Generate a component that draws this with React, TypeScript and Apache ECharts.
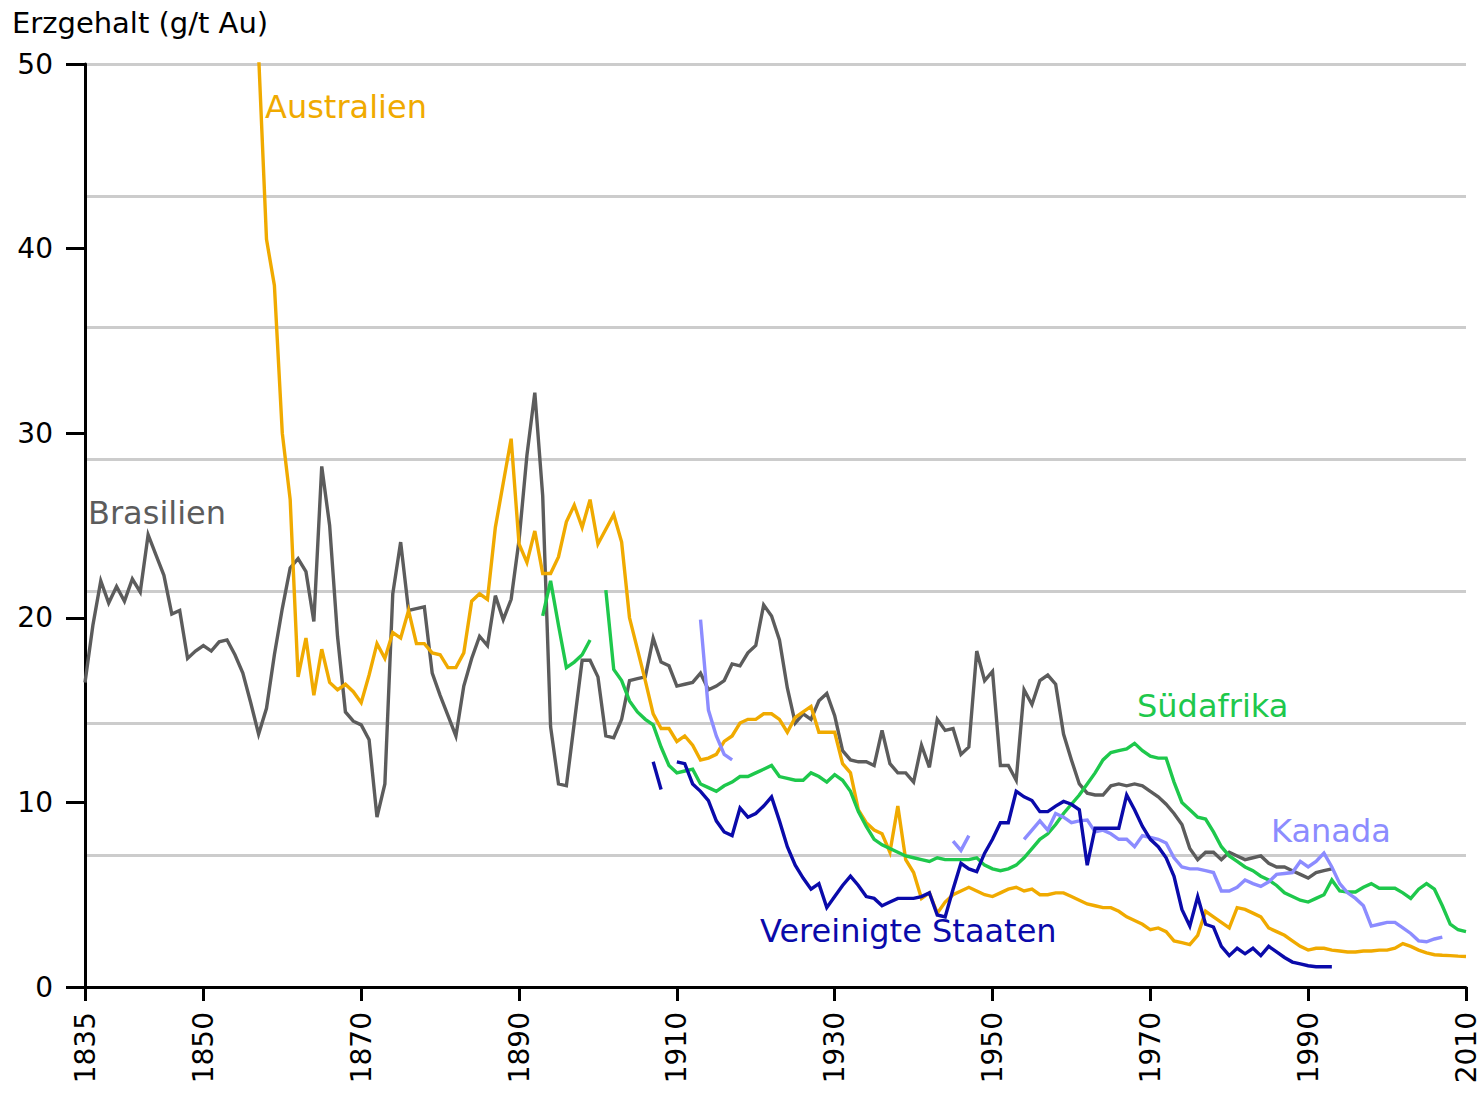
import React, { useEffect, useRef } from "react";
import * as echarts from "echarts";

const xTickYears = [1835, 1850, 1870, 1890, 1910, 1930, 1950, 1970, 1990, 2010];
const yTickValues = [0, 10, 20, 30, 40, 50];

const brasilienStart = 1835;
const brasilienValues = [
  16.5, 19.6, 22.0, 20.8, 21.7, 20.9, 22.1, 21.4, 24.5, 23.4,
  22.3, 20.2, 20.4, 17.8, 18.2, 18.5, 18.2, 18.7, 18.8, 18.0,
  17.0, 15.4, 13.7, 15.1, 18.0, 20.5, 22.7, 23.2, 22.5, 19.8,
  28.2, 25.0, 19.0, 14.9, 14.4, 14.2, 13.4, 9.2, 11.0, 21.3,
  24.1, 20.4, 20.5, 20.6, 17.0, 15.8, 14.7, 13.6, 16.3, 17.8,
  19.0, 18.5, 21.2, 19.9, 21.0, 24.2, 28.8, 32.2, 26.6, 14.1,
  11.0, 10.9, 14.3, 17.7, 17.7, 16.8, 13.6, 13.5, 14.5, 16.6,
  16.7, 16.8, 18.9, 17.6, 17.4, 16.3, 16.4, 16.5, 17.0, 16.1,
  16.3, 16.6, 17.5, 17.4, 18.1, 18.5, 20.7, 20.1, 18.8, 16.2,
  14.3, 14.8, 14.5, 15.5, 15.9, 14.7, 12.8, 12.3, 12.2, 12.2,
  12.0, 13.9, 12.1, 11.6, 11.6, 11.1, 13.1, 11.9, 14.5, 13.9,
  14.0, 12.6, 13.0, 18.2, 16.6, 17.1, 12.0, 12.0, 11.2, 16.1,
  15.3, 16.6, 16.9, 16.4, 13.7, 12.3, 11.0, 10.5, 10.4, 10.4,
  10.9, 11.0, 10.9, 11.0, 10.9, 10.6, 10.3, 9.9, 9.4, 8.8,
  7.5, 6.9, 7.3, 7.3, 6.9, 7.3, 7.1, 6.9, 7.0, 7.1,
  6.7, 6.5, 6.5, 6.3, 6.1, 5.9, 6.2, 6.3, 6.4,
];

const australienStart = 1857;
const australienValues = [
  50.5, 40.5, 38.0, 30.0, 26.4, 16.8, 18.9, 15.8, 18.3, 16.5,
  16.1, 16.4, 16.0, 15.4, 16.9, 18.6, 17.8, 19.2, 18.9, 20.4,
  18.6, 18.6, 18.1, 18.0, 17.3, 17.3, 18.1, 20.9, 21.3, 21.0,
  24.9, 27.3, 29.7, 24.0, 23.0, 24.7, 22.4, 22.4, 23.3, 25.2,
  26.1, 24.9, 26.4, 24.0, 24.8, 25.6, 24.1, 20.0, 18.3, 16.6,
  14.8, 14.0, 14.0, 13.3, 13.6, 13.1, 12.3, 12.4, 12.6, 13.3,
  13.6, 14.3, 14.5, 14.5, 14.8, 14.8, 14.5, 13.8, 14.6, 14.9,
  15.2, 13.8, 13.8, 13.8, 12.1, 11.6, 9.6, 8.9, 8.5, 8.3,
  7.3, 9.8, 6.9, 6.2, 4.8, 5.1, 4.0, 4.6, 5.0, 5.2,
  5.4, 5.2, 5.0, 4.9, 5.1, 5.3, 5.4, 5.2, 5.3, 5.0,
  5.0, 5.1, 5.1, 4.9, 4.7, 4.5, 4.4, 4.3, 4.3, 4.1,
  3.8, 3.6, 3.4, 3.1, 3.2, 3.0, 2.5, 2.4, 2.3, 2.8,
  4.1, 3.8, 3.5, 3.2, 4.3, 4.2, 4.0, 3.8, 3.2, 3.0,
  2.8, 2.5, 2.2, 2.0, 2.1, 2.1, 2.0, 1.95, 1.9, 1.9,
  1.95, 1.95, 2.0, 2.0, 2.1, 2.35, 2.2, 2.0, 1.85, 1.75,
  1.72, 1.7, 1.67, 1.65,
];

const suedafrika1Start = 1893;
const suedafrika1Values = [20.1, 22.0, 19.6, 17.3, 17.6, 18.0, 18.8];
const suedafrika2Start = 1901;
const suedafrika2Values = [
  21.5, 17.2, 16.6, 15.5, 14.9, 14.5, 14.2, 13.0, 12.0, 11.6,
  11.7, 11.8, 11.0, 10.8, 10.6, 10.9, 11.1, 11.4, 11.4, 11.6,
  11.8, 12.0, 11.4, 11.3, 11.2, 11.2, 11.6, 11.4, 11.1, 11.5,
  11.2, 10.6, 9.5, 8.7, 8.0, 7.7, 7.5, 7.3, 7.1, 7.0,
  6.9, 6.8, 7.0, 6.9, 6.9, 6.9, 6.9, 7.0, 6.6, 6.4,
  6.3, 6.4, 6.6, 7.0, 7.5, 8.0, 8.3, 8.8, 9.4, 9.9,
  10.4, 11.0, 11.6, 12.3, 12.7, 12.8, 12.9, 13.2, 12.8, 12.5,
  12.4, 12.4, 11.1, 10.0, 9.6, 9.2, 9.1, 8.4, 7.6, 7.1,
  6.8, 6.5, 6.3, 6.0, 5.8, 5.5, 5.1, 4.9, 4.7, 4.6,
  4.8, 5.0, 5.8, 5.2, 5.15, 5.15, 5.4, 5.6, 5.35, 5.35,
  5.35, 5.1, 4.8, 5.3, 5.6, 5.3, 4.4, 3.4, 3.1, 3.0,
];

const usa1Start = 1907;
const usa1Values = [12.2, 10.7];
const usa2Start = 1910;
const usa2Values = [
  12.2, 12.1, 11.0, 10.6, 10.1, 9.0, 8.4, 8.2, 9.7, 9.2,
  9.4, 9.8, 10.3, 9.0, 7.6, 6.6, 5.9, 5.3, 5.6, 4.3,
  4.9, 5.5, 6.0, 5.5, 4.9, 4.8, 4.4, 4.6, 4.8, 4.8,
  4.8, 4.9, 5.1, 3.9, 3.8, 5.3, 6.7, 6.4, 6.25, 7.25,
  8.0, 8.9, 8.9, 10.6, 10.3, 10.1, 9.5, 9.5, 9.8, 10.05,
  9.9, 9.6, 6.6, 8.6, 8.6, 8.6, 8.6, 10.4, 9.6, 8.7,
  8.0, 7.6, 7.0, 6.0, 4.2, 3.3, 4.9, 3.4, 3.25, 2.2,
  1.7, 2.1, 1.8, 2.1, 1.7, 2.2, 1.9, 1.6, 1.35, 1.25,
  1.15, 1.1, 1.1, 1.1,
];

const kanada1Start = 1913;
const kanada1Values = [19.9, 15.0, 13.6, 12.6, 12.3];
const kanada2Start = 1945;
const kanada2Values = [7.9, 7.4, 8.2];
const kanada3Start = 1954;
const kanada3Values = [
  8.0, 8.5, 9.0, 8.5, 9.4, 9.2, 8.9, 9.0, 9.05, 8.4,
  8.5, 8.3, 8.0, 8.0, 7.6, 8.2, 8.1, 8.0, 7.8, 7.0,
  6.5, 6.4, 6.4, 6.3, 6.2, 5.2, 5.2, 5.4, 5.8, 5.6,
  5.45, 5.7, 6.1, 6.15, 6.2, 6.8, 6.5, 6.8, 7.25, 6.5,
  5.6, 5.1, 4.8, 4.4, 3.3, 3.4, 3.5, 3.5, 3.2, 2.9,
  2.5, 2.45, 2.6, 2.7,
];

const COLORS = {
  brasilien: "#5c5c5c",
  australien: "#f0aa00",
  suedafrika: "#1ec84c",
  kanada: "#8c8cff",
  usa: "#0a0aaa",
};

const FONT = "DejaVu Sans";

function toPairs(start: number, values: number[]) {
  return values.map((v, i) => [start + i, v]);
}

function lineSeries(name: string, color: string, start: number, values: number[]) {
  return {
    type: "line",
    name,
    data: toPairs(start, values),
    showSymbol: false,
    symbol: "none",
    clip: true,
    xAxisIndex: 0,
    yAxisIndex: 0,
    lineStyle: { color, width: 3.4, join: "miter" },
    itemStyle: { color },
    emphasis: { disabled: true },
    silent: true,
  };
}

function labelText(text: string, x: number, y: number, color: string) {
  return {
    type: "text",
    x,
    y,
    silent: true,
    style: {
      text,
      fill: color,
      fontSize: 32,
      fontFamily: FONT,
      verticalAlign: "middle",
      align: "left",
    },
  };
}

export default function App() {
  const ref = useRef<HTMLDivElement>(null);

  useEffect(() => {
    if (!ref.current) return;
    const chart = echarts.init(ref.current, null, { renderer: "svg" });
    const option = {
      animation: false,
      backgroundColor: "#ffffff",
      grid: {
        left: 85,
        right: 17,
        top: 64,
        bottom: 106,
        containLabel: false,
        outerBoundsMode: "none",
      },
      xAxis: {
        type: "value",
        min: 1835,
        max: 2010,
        axisLine: { show: true, onZero: false, lineStyle: { color: "#000", width: 3 } },
        axisTick: {
          show: true,
          customValues: xTickYears,
          length: 14,
          lineStyle: { color: "#000", width: 3 },
        },
        axisLabel: {
          customValues: xTickYears,
          rotate: 90,
          margin: 25,
          fontSize: 28,
          lineHeight: 24,
          color: "#000",
          fontFamily: FONT,
          formatter: (v: number) => String(v),
        },
        splitLine: { show: false },
      },
      yAxis: [
        {
          type: "value",
          min: 0,
          max: 50,
          axisLine: { show: true, onZero: false, lineStyle: { color: "#000", width: 3 } },
          axisTick: {
            show: true,
            customValues: yTickValues,
            length: 19,
            lineStyle: { color: "#000", width: 3 },
          },
          axisLabel: {
            customValues: yTickValues,
            margin: 32,
            fontSize: 28,
            color: "#000",
            fontFamily: FONT,
            formatter: (v: number) => String(v),
          },
          splitLine: { show: false },
        },
        {
          type: "value",
          min: 0,
          max: 50,
          interval: 50 / 7,
          position: "left",
          axisLine: { show: false },
          axisTick: { show: false },
          axisLabel: { show: false },
          splitLine: { show: true, lineStyle: { color: "#cccccc", width: 3 } },
        },
      ],
      graphic: [
        {
          type: "text",
          x: 12,
          y: 23,
          silent: true,
          style: {
            text: "Erzgehalt (g/t Au)",
            fill: "#000",
            fontSize: 29,
            fontFamily: FONT,
            verticalAlign: "middle",
          },
        },
        labelText("Brasilien", 88, 513, COLORS.brasilien),
        labelText("Australien", 265, 107, COLORS.australien),
        labelText("Südafrika", 1137, 706, COLORS.suedafrika),
        labelText("Kanada", 1271, 831, COLORS.kanada),
        labelText("Vereinigte Staaten", 760, 931, COLORS.usa),
      ],
      series: [
        lineSeries("Brasilien", COLORS.brasilien, brasilienStart, brasilienValues),
        lineSeries("Australien", COLORS.australien, australienStart, australienValues),
        lineSeries("Südafrika", COLORS.suedafrika, suedafrika1Start, suedafrika1Values),
        lineSeries("Südafrika", COLORS.suedafrika, suedafrika2Start, suedafrika2Values),
        lineSeries("Kanada", COLORS.kanada, kanada1Start, kanada1Values),
        lineSeries("Kanada", COLORS.kanada, kanada2Start, kanada2Values),
        lineSeries("Kanada", COLORS.kanada, kanada3Start, kanada3Values),
        lineSeries("Vereinigte Staaten", COLORS.usa, usa1Start, usa1Values),
        lineSeries("Vereinigte Staaten", COLORS.usa, usa2Start, usa2Values),
      ],
    };
    chart.setOption(option as any);
    return () => chart.dispose();
  }, []);

  return (
    <div
      ref={ref}
      style={{ position: "fixed", left: 0, top: 0, width: 1483, height: 1093, background: "#fff" }}
    />
  );
}
